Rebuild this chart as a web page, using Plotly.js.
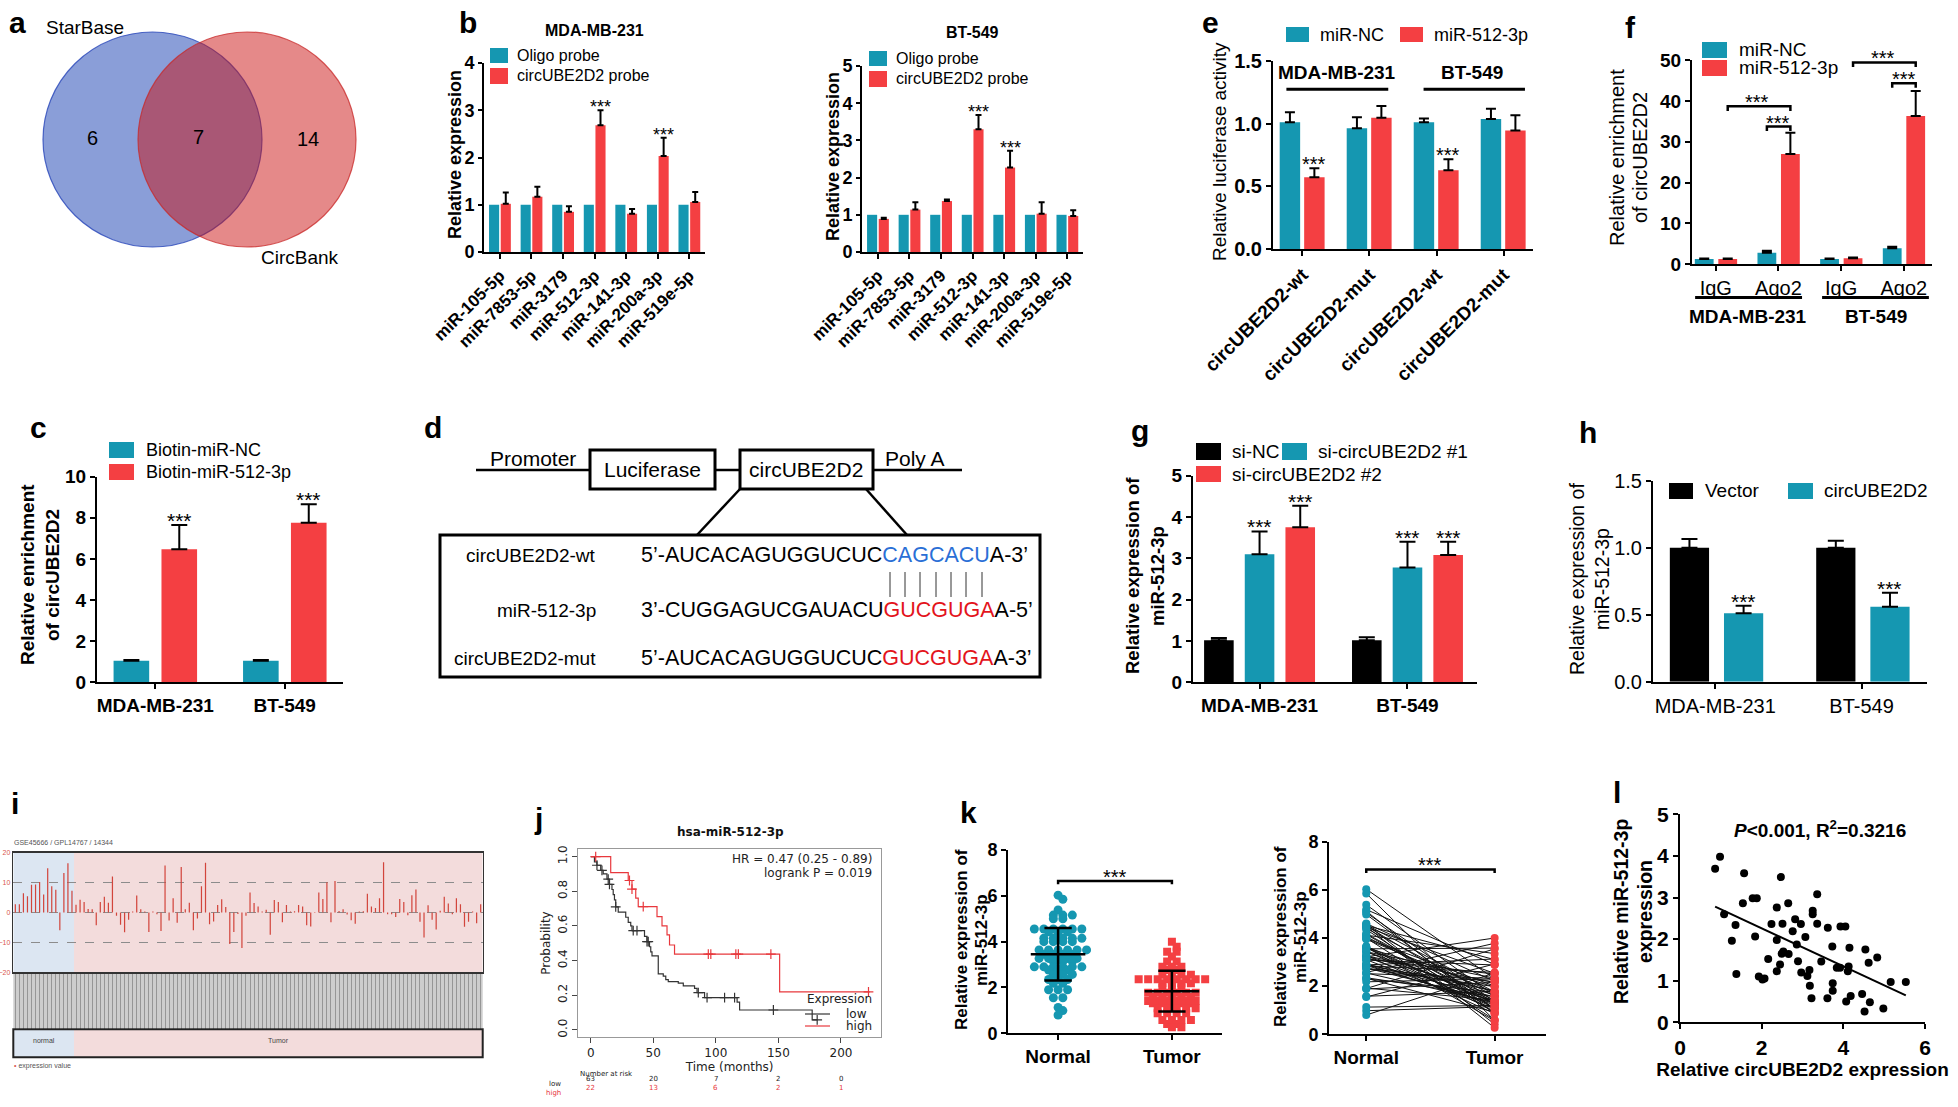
<!DOCTYPE html>
<html>
<head>
<meta charset="utf-8">
<script src="https://cdn.plot.ly/plotly-3.0.1.min.js"></script>
<style>
  html, body { margin: 0; padding: 0; background: #fff; }
  #fig { width: 1958px; height: 1107px; }
</style>
</head>
<body>
<div id="fig"></div>
<script>
// ---------- values ----------
// b: RNA pull-down, 7 candidate miRNAs
var bCats = ['miR-105-5p', 'miR-7853-5p', 'miR-3179', 'miR-512-3p', 'miR-141-3p', 'miR-200a-3p', 'miR-519e-5p'];
var bMdaOligo = [1, 1, 1, 1, 1, 1, 1];
var bMdaProbe = [1.02, 1.17, 0.85, 2.68, 0.81, 2.03, 1.06];
var bMdaProbeErr = [0.24, 0.21, 0.12, 0.32, 0.10, 0.39, 0.21];
var bBtOligo = [1, 1, 1, 1, 1, 1, 1];
var bBtProbe = [0.89, 1.14, 1.37, 3.30, 2.27, 1.03, 0.97];
var bBtProbeErr = [0.03, 0.20, 0.04, 0.38, 0.45, 0.31, 0.15];

// e: luciferase
var eCats = ['circUBE2D2-wt', 'circUBE2D2-mut', 'circUBE2D2-wt', 'circUBE2D2-mut'];
var eNC = [1.01, 0.963, 1.01, 1.037];
var eNCErr = [0.08, 0.087, 0.03, 0.081];
var eMir = [0.573, 1.047, 0.628, 0.944];
var eMirErr = [0.071, 0.093, 0.088, 0.122];

// f: RIP
var fCats = ['IgG', 'Ago2', 'IgG', 'Ago2'];
var fNC = [1.3, 2.8, 1.3, 3.9];
var fNCErr = [0.15, 0.5, 0.15, 0.4];
var fMir = [1.3, 27.0, 1.5, 36.3];
var fMirErr = [0.15, 5.2, 0.15, 6.1];

// c: biotin pull-down
var cellCats = ['MDA-MB-231', 'BT-549'];
var cNC = [1.05, 1.05];
var cNCErr = [0.03, 0.03];
var cMir = [6.47, 7.76];
var cMirErr = [1.18, 0.90];

// g: knockdown
var gNC = [1.02, 1.02];
var gNCErr = [0.05, 0.07];
var gSi1 = [3.10, 2.78];
var gSi1Err = [0.55, 0.62];
var gSi2 = [3.75, 3.08];
var gSi2Err = [0.52, 0.32];

// h: overexpression
var hVector = [1.0, 1.0];
var hVectorErr = [0.065, 0.052];
var hCirc = [0.51, 0.56];
var hCircErr = [0.057, 0.104];

// i: GEO expression profile
var iNormal = [2.8, 2.8, 6.4, 5.4, 9.3, 9.4, 10.2, 6.0, 14.8, 8.8, 7.6, -5.9, 13.2, 16.5, 7.3];
var iTumor = [2.6, 4.3, 3.5, 1.2, 1.1, -4.3, 3.5, 5.3, 3.3, 12.0, -1.1, -4.1, -6.6, -2.4, 0.3, 5.7, 1.1, 0.3, -6.5, 0.3,
  -0.6, -6.2, 15.7, -2.7, 4.8, -3.4, 15.2, 1.1, 3.3, -5.9, -2.0, 8.8, 16.6, -3.9, -3.0, 2.5, 4.4, 1.8, -10.5, -6.5,
  -0.5, -11.9, -1.1, 6.7, 3.2, 2.0, 0.3, 0.9, -7.4, 4.2, 3.5, -3.3, 2.5, 0.3, 0.4, 2.5, 2.0, -4.3, -4.7, -0.2,
  6.7, 4.5, 10.1, -3.3, 10.5, 0.5, 1.1, -0.7, -2.6, -3.8, 0.3, 0.4, 6.3, 2.0, 1.5, 4.8, 16.8, -0.6, -0.6, -1.5,
  4.5, 3.5, -0.9, 5.8, 7.7, -3.1, -8.4, 2.4, -2.4, -5.7, 0.6, 5.3, 3.0, -0.6, 4.8, 2.8, -4.8, -3.1, 0.3, -3.6, 2.8];

// j: Kaplan-Meier
var kmHighT = [0, 16, 30, 33, 36, 38, 53, 57, 61, 63, 67, 151, 223];
var kmHighS = [1.0, 0.908, 0.862, 0.812, 0.76, 0.711, 0.654, 0.6, 0.548, 0.49, 0.437, 0.219, 0.219];
var kmHighCens = [4, 31, 33, 42, 94, 96, 116, 118, 144, 222];
var kmLowT = [0, 3, 5, 8, 10, 13, 15, 17, 18, 19, 20, 22, 28, 30, 32, 33, 43, 45, 47, 48, 49, 54, 58, 60, 62, 70, 74, 83, 85, 91, 117, 119, 177, 181];
var kmLowS = [1.0, 0.97, 0.95, 0.92, 0.9, 0.87, 0.84, 0.81, 0.78, 0.75, 0.71, 0.68, 0.65, 0.62, 0.6, 0.573, 0.54, 0.51, 0.48, 0.45, 0.427, 0.323, 0.31, 0.29, 0.279, 0.27, 0.254, 0.24, 0.215, 0.186, 0.16, 0.115, 0.058, 0.058];
var kmLowCens = [5, 9, 14, 15, 20, 34, 37, 45, 46, 86, 93, 107, 115, 146, 181];
var riskTimes = [0, 50, 100, 150, 200];
var riskLow = [63, 20, 7, 2, 0];
var riskHigh = [22, 13, 6, 2, 1];

// k: tissue expression (scatter dot plot rows)
var kNormal = [6.03, 5.85, 5.38, 5.16, 5.16, 5.16, 5.0, 5.0,
  4.55, 4.55, 4.55, 4.55, 4.55, 4.55, 4.43, 4.43, 4.43, 4.15, 4.15, 4.15, 4.15, 4.15, 4.0, 4.0, 4.0, 4.0,
  3.64, 3.64, 3.64, 3.64, 3.64, 3.64, 3.45, 3.45, 3.45, 3.45, 3.27, 3.27, 3.27, 3.27, 3.27, 3.13, 3.13, 3.13,
  2.9, 2.9, 2.9, 2.9, 2.9, 2.9, 2.76, 2.76, 2.76, 2.57, 2.57, 2.57, 2.35, 2.35, 2.35, 2.18, 2.18,
  1.9, 1.9, 1.9, 1.55, 1.55, 1.13, 0.99, 0.8];
var kTumor = [4.0, 3.78, 3.56, 3.56, 3.35, 3.13, 3.13, 2.9, 2.9, 2.9, 2.76, 2.76, 2.55, 2.55, 2.55, 2.55,
  2.36, 2.36, 2.36, 2.36, 2.36, 2.36, 2.36, 2.36, 2.18, 2.18, 2.18, 2.18, 2.0, 2.0, 2.0,
  1.77, 1.77, 1.77, 1.77, 1.77, 1.77, 1.6, 1.6, 1.6, 1.6, 1.6, 1.41, 1.41, 1.41, 1.41, 1.41, 1.41,
  1.31, 1.31, 1.31, 1.31, 1.31, 1.09, 1.09, 1.09, 1.09, 1.09, 0.87, 0.87, 0.87, 0.87,
  0.58, 0.58, 0.58, 0.58, 0.41, 0.41, 0.26, 0.26];
// paired samples (right plot): normal and matching tumor value
var kPairNormal = [6.03, 5.85, 5.38, 5.18, 5.12, 5.05, 4.98, 4.6, 4.58, 4.55, 4.52, 4.5, 4.48, 4.45, 4.4, 4.35,
  4.18, 4.15, 4.12, 4.05, 4.0, 3.98, 3.95, 3.66, 3.64, 3.62, 3.6, 3.58, 3.55, 3.45, 3.43, 3.42,
  3.28, 3.26, 3.25, 3.22, 3.2, 3.13, 3.1, 3.08, 2.92, 2.9, 2.9, 2.88, 2.86, 2.85, 2.76, 2.74,
  2.72, 2.57, 2.55, 2.52, 2.35, 2.33, 2.3, 2.18, 1.92, 1.9, 1.88, 1.58, 1.55, 1.13, 0.98, 0.8];
var kPairTumor = [2.3, 0.58, 1.6, 2.9, 0.85, 1.36, 1.05, 2.2, 0.42, 1.76, 3.1, 1.3, 0.27, 2.53, 1.58, 0.88,
  1.25, 1.08, 3.35, 1.41, 0.6, 2.0, 1.74, 1.28, 0.95, 0.56, 1.96, 1.38, 3.58, 1.1, 2.33, 1.62,
  0.86, 2.15, 1.77, 4.0, 1.35, 2.5, 1.06, 2.88, 1.55, 1.22, 1.8, 3.13, 1.27, 2.57, 1.4, 2.18,
  1.98, 3.78, 1.32, 2.32, 1.56, 0.92, 1.75, 2.3, 1.42, 3.55, 2.16, 1.78, 2.92, 1.2, 1.15, 2.55];

// l: correlation
var lCirc = [0.86, 0.98, 1.57, 1.08, 1.36, 1.27, 1.38, 1.54, 1.78, 1.88, 1.84, 1.93, 2.02, 2.07, 2.16, 2.24,
  2.37, 2.37, 2.37, 2.45, 2.47, 2.49, 2.51, 2.53, 2.65, 2.66, 2.76, 2.82, 2.86, 2.89, 2.96, 2.97,
  3.07, 3.12, 3.17, 3.18, 3.22, 3.25, 3.25, 3.36, 3.36, 3.46, 3.61, 3.62, 3.73, 3.74, 3.74, 3.84,
  3.92, 3.93, 4.05, 4.07, 4.11, 4.13, 4.15, 4.18, 4.46, 4.52, 4.54, 4.62, 4.65, 4.83, 4.98, 5.16, 5.53];
var lMir = [3.69, 3.98, 3.58, 2.6, 2.34, 1.96, 1.16, 2.86, 2.98, 2.98, 2.06, 1.1, 1.03, 1.05, 1.52, 2.36,
  2.76, 1.98, 1.23, 1.39, 3.49, 1.65, 2.37, 1.7, 2.86, 1.64, 2.19, 2.48, 1.87, 1.47, 2.36, 1.2,
  2.05, 1.11, 1.26, 0.88, 0.58, 2.68, 2.6, 3.08, 2.37, 1.46, 0.58, 2.27, 1.82, 0.94, 0.76, 1.31,
  1.31, 2.3, 2.3, 0.5, 1.23, 1.34, 1.79, 0.63, 0.68, 0.26, 1.75, 1.43, 0.48, 1.56, 0.33, 0.97, 0.97];

// ---------- drawing ----------
var W = 1958, H = 1107;
var F = 'Liberation Sans, Arial, Helvetica, sans-serif';
var FR = 'DejaVu Sans, sans-serif';
var TEAL = '#1597b1', RED = '#f43f42', KRED = '#e8383d';

var traces = [], shapes = [], annotations = [];
var layout = {
  width: W, height: H, margin: {l: 0, r: 0, t: 0, b: 0},
  paper_bgcolor: '#fff', plot_bgcolor: 'rgba(0,0,0,0)',
  showlegend: false, barmode: 'overlay', hovermode: false,
  font: {family: F, color: '#000'}
};

function fnt(size, bold, color, fam) {
  return {family: fam || F, size: size, color: color || '#000', weight: bold ? 'bold' : 'normal'};
}
function gp(domain, o) {
  var a = {domain: domain, showline: true, linecolor: '#000', linewidth: 2, ticks: 'outside', ticklen: 5,
    tickwidth: 2, tickcolor: '#000', showgrid: false, zeroline: false, fixedrange: true, automargin: false,
    tickfont: fnt(18, true)};
  for (var k in o) a[k] = o[k];
  return a;
}
function panel(n, l, r, t, b, xo, yo) {
  var s = n === 1 ? '' : String(n);
  xo.anchor = 'y' + s;
  yo.anchor = 'x' + s;
  layout['xaxis' + s] = gp([l / W, r / W], xo);
  layout['yaxis' + s] = gp([1 - b / H, 1 - t / H], yo);
  return s;
}
function T(x, y, s, f, xa, ya, angle) {
  annotations.push({xref: 'paper', yref: 'paper', x: x / W, y: 1 - y / H, text: s, showarrow: false,
    font: f, xanchor: xa || 'center', yanchor: ya || 'middle', textangle: angle || 0, borderpad: 0});
}
// vertical axis title, one annotation per line
function ytitle(xs, yc, lines, f) {
  lines.forEach(function (t, i) { T(xs[i], yc, t, f, 'center', 'middle', -90); });
}
function R(x0, y0, x1, y1, fill, lw, lc) {
  shapes.push({type: 'rect', xref: 'paper', yref: 'paper', x0: x0 / W, x1: x1 / W, y0: 1 - y0 / H, y1: 1 - y1 / H,
    fillcolor: fill || 'rgba(0,0,0,0)', line: {width: lw || 0, color: lc || '#000'}});
}
function L(x0, y0, x1, y1, lw, lc) {
  shapes.push({type: 'line', xref: 'paper', yref: 'paper', x0: x0 / W, x1: x1 / W, y0: 1 - y0 / H, y1: 1 - y1 / H,
    line: {width: lw, color: lc || '#000'}});
}
function key(x, y0, y1, w, color, label, f, gap) {
  R(x, y0, x + w, y1, color);
  T(x + w + gap, (y0 + y1) / 2, label, f, 'left', 'middle');
}
function idx(a) { return a.map(function (v, i) { return i; }); }
function barSet(s, cats, list, cap, starFont) {
  list.forEach(function (b) {
    var t = {type: 'bar', x: idx(cats), y: b.y, width: b.w, offset: b.off, xaxis: 'x' + s, yaxis: 'y' + s,
      marker: {color: b.color, line: {width: 0}}, hoverinfo: 'skip'};
    if (b.err) {
      t.error_y = {type: 'data', symmetric: false, array: b.err, arrayminus: b.err.map(function () { return 0; }),
        color: '#000', thickness: 2, width: cap};
    }
    traces.push(t);
    (b.stars || []).forEach(function (i) {
      annotations.push({xref: 'x' + s, yref: 'y' + s, x: i + b.off + b.w / 2, y: b.y[i] + (b.err ? b.err[i] : 0),
        text: '***', showarrow: false, xanchor: 'center', yanchor: 'bottom', yshift: -9, font: starFont});
    });
  });
}
function dataLine(s, x0, y0, x1, y1, w) {
  shapes.push({type: 'line', xref: 'x' + s, yref: 'y' + s, x0: x0, y0: y0, x1: x1, y1: y1, line: {width: w, color: '#000'}});
}
function bracket(s, xa, xb, ytop, ybot, w) {
  shapes.push({type: 'path', xref: 'x' + s, yref: 'y' + s,
    path: 'M' + xa + ',' + ybot + ' L' + xa + ',' + ytop + ' L' + xb + ',' + ytop + ' L' + xb + ',' + ybot,
    line: {width: w, color: '#000'}});
}
function dataText(s, x, y, txt, f, ya, ys) {
  annotations.push({xref: 'x' + s, yref: 'y' + s, x: x, y: y, text: txt, showarrow: false, yanchor: ya || 'bottom',
    yshift: ys || 0, font: f});
}

// panel letters
var letter = fnt(30, true);
[['a', 17, 22], ['b', 468, 22], ['e', 1210, 22], ['f', 1630, 27], ['c', 38, 427], ['d', 433, 427],
 ['g', 1140, 430], ['h', 1588, 433], ['i', 15, 803], ['j', 538, 818], ['k', 968, 812], ['l', 1617, 792]]
  .forEach(function (p) { T(p[1], p[2], p[0], letter); });

// ---- a: Venn ----
shapes.push({type: 'circle', xref: 'paper', yref: 'paper', x0: 43 / W, x1: 262 / W, y0: 1 - 247 / H, y1: 1 - 32 / H,
  fillcolor: 'rgba(34,72,181,0.53)', line: {color: 'rgba(40,70,185,0.8)', width: 1.2}});
shapes.push({type: 'circle', xref: 'paper', yref: 'paper', x0: 138 / W, x1: 356 / W, y0: 1 - 247 / H, y1: 1 - 32 / H,
  fillcolor: 'rgba(202,15,15,0.49)', line: {color: 'rgba(200,40,40,0.75)', width: 1.2}});
T(85, 27, 'StarBase', fnt(19));
T(92, 138, '6', fnt(20));
T(198, 137, '7', fnt(20));
T(308, 139, '14', fnt(20));
T(300, 257, 'CircBank', fnt(19));

// ---- b: two pull-down panels ----
var s;
s = panel(1, 484, 705, 63, 252,
  {range: [-0.5, 6.5], tickvals: idx(bCats), ticktext: bCats, tickangle: -45, tickfont: fnt(17, true)},
  {range: [0, 4], dtick: 1, ticklen: 4, tickfont: fnt(18, true)});
ytitle([455], 155, ['Relative expression'], fnt(18, true));
barSet(s, bCats, [
  {y: bMdaOligo, color: TEAL, off: -0.34, w: 0.32},
  {y: bMdaProbe, err: bMdaProbeErr, color: RED, off: 0.03, w: 0.32, stars: [3, 5]}
], 3, fnt(18));
T(594, 30, 'MDA-MB-231', fnt(16, true));
key(490, 48, 63, 18, TEAL, 'Oligo probe', fnt(16), 8);
key(490, 68, 84, 18, RED, 'circUBE2D2 probe', fnt(16), 8);

s = panel(2, 862, 1083, 66, 252,
  {range: [-0.5, 6.5], tickvals: idx(bCats), ticktext: bCats, tickangle: -45, tickfont: fnt(17, true)},
  {range: [0, 5], dtick: 1, ticklen: 4, tickfont: fnt(18, true)});
ytitle([833], 157, ['Relative expression'], fnt(18, true));
barSet(s, bCats, [
  {y: bBtOligo, color: TEAL, off: -0.34, w: 0.32},
  {y: bBtProbe, err: bBtProbeErr, color: RED, off: 0.03, w: 0.32, stars: [3, 4]}
], 3, fnt(18));
T(972, 32, 'BT-549', fnt(16, true));
key(869, 51, 66, 18, TEAL, 'Oligo probe', fnt(16), 8);
key(869, 71, 87, 18, RED, 'circUBE2D2 probe', fnt(16), 8);

// ---- e: luciferase ----
s = panel(3, 1273, 1533, 60.7, 249.3,
  {range: [-0.44, 3.44], tickvals: idx(eCats), ticktext: eCats, tickangle: -45, tickfont: fnt(19, true)},
  {range: [0, 1.5], dtick: 0.5, tickformat: '.1f', tickfont: fnt(20, true)});
ytitle([1220], 152, ['Relative luciferase activity'], fnt(19));
barSet(s, eCats, [
  {y: eNC, err: eNCErr, color: TEAL, off: -0.34, w: 0.305},
  {y: eMir, err: eMirErr, color: RED, off: 0.025, w: 0.305, stars: [0, 2]}
], 5, fnt(20));
key(1286, 27, 42, 23, TEAL, 'miR-NC', fnt(18), 10);
key(1400, 27, 42, 23, RED, 'miR-512-3p', fnt(18), 10);
dataText(s, 0.52, 1.31, 'MDA-MB-231', fnt(19, true));
dataText(s, 2.53, 1.31, 'BT-549', fnt(19, true));
dataLine(s, -0.24, 1.273, 1.28, 1.273, 3);
dataLine(s, 1.807, 1.273, 3.32, 1.273, 3);

// ---- f: RIP ----
s = panel(4, 1692, 1932, 60, 264.3,
  {range: [-0.38, 3.45], tickvals: idx(fCats), ticktext: fCats, tickfont: fnt(20)},
  {range: [0, 50], dtick: 10, tickfont: fnt(19, true)});
ytitle([1617, 1640], 158, ['Relative enrichment', 'of circUBE2D2'], fnt(20));
barSet(s, fCats, [
  {y: fNC, err: fNCErr, color: TEAL, off: -0.335, w: 0.3},
  {y: fMir, err: fMirErr, color: RED, off: 0.04, w: 0.3}
], 5, fnt(20));
bracket(s, 0.19, 1.19, 38.7, 37.5, 2.5);
bracket(s, 0.815, 1.19, 33.7, 32.6, 2.5);
bracket(s, 2.19, 3.19, 49.4, 48.3, 2.5);
bracket(s, 2.815, 3.19, 44.3, 43.2, 2.5);
dataText(s, 0.66, 38.7, '***', fnt(20), 'bottom', -9);
dataText(s, 1.0, 33.7, '***', fnt(20), 'bottom', -9);
dataText(s, 2.66, 49.4, '***', fnt(20), 'bottom', -9);
dataText(s, 3.0, 44.3, '***', fnt(20), 'bottom', -9);
key(1702, 42, 58, 25, TEAL, 'miR-NC', fnt(19), 11);
key(1702, 60, 76, 25, RED, 'miR-512-3p', fnt(19), 11);
[[-0.33, 1.376, 0.52, 'MDA-MB-231'], [1.696, 3.40, 2.55, 'BT-549']].forEach(function (g) {
  shapes.push({type: 'line', xref: 'x4', yref: 'paper', x0: g[0], x1: g[1], y0: 1 - 297.5 / H, y1: 1 - 297.5 / H, line: {width: 3, color: '#000'}});
  annotations.push({xref: 'x4', yref: 'paper', x: g[2], y: 1 - 317 / H, text: g[3], showarrow: false, yanchor: 'middle', font: fnt(19, true)});
});

// ---- c: biotin pull-down ----
s = panel(5, 97, 343, 476.7, 682.3,
  {range: [-0.45, 1.45], tickvals: idx(cellCats), ticktext: cellCats, tickfont: fnt(19, true)},
  {range: [0, 10], dtick: 2, tickfont: fnt(19, true)});
ytitle([27, 52], 575, ['Relative enrichment', 'of circUBE2D2'], fnt(19, true));
barSet(s, cellCats, [
  {y: cNC, err: cNCErr, color: TEAL, off: -0.322, w: 0.275},
  {y: cMir, err: cMirErr, color: RED, off: 0.048, w: 0.275, stars: [0, 1]}
], 8, fnt(21));
key(109, 442, 458, 25, TEAL, 'Biotin-miR-NC', fnt(18), 11);
key(109, 464, 480, 25, RED, 'Biotin-miR-512-3p', fnt(18), 11);

// ---- d: reporter construct ----
L(476, 470, 962, 470, 2.5);
R(590, 450, 715, 489, '#fff', 3);
R(740, 450, 873, 489, '#fff', 3);
L(740, 489, 697, 535, 2.5);
L(866, 489, 907, 535, 2.5);
R(440, 535, 1040, 677, '#fff', 3);
T(533, 458, 'Promoter', fnt(21));
T(652, 469, 'Luciferase', fnt(21));
T(806, 470, 'circUBE2D2', fnt(21));
T(915, 458, 'Poly A', fnt(21));
var dRows = [
  ['circUBE2D2-wt', '5’-AUCACAGUGGUCUC<span style="color:#2a6fd6">CAGCACU</span>A-3’', 555],
  ['miR-512-3p', '3’-CUGGAGUCGAUACU<span style="color:#e3141c">GUCGUGA</span>A-5’', 610],
  ['circUBE2D2-mut', '5’-AUCACAGUGGUCUC<span style="color:#e3141c">GUCGUGA</span>A-3’', 658]
];
dRows.forEach(function (r) {
  T(597, r[2], r[0], fnt(19), 'right');
  T(640, r[2], r[1], fnt(21.5), 'left');
});
[890, 905, 920, 936, 951, 966, 982].forEach(function (x) { L(x, 572, x, 597, 1, '#333'); });

// ---- g: knockdown ----
s = panel(6, 1193, 1477, 475.7, 682.3,
  {range: [-0.45, 1.47], tickvals: idx(cellCats), ticktext: cellCats, tickfont: fnt(19, true)},
  {range: [0, 5], dtick: 1, tickfont: fnt(19, true)});
ytitle([1132, 1157], 576, ['Relative expression of', 'miR-512-3p'], fnt(18.5, true));
barSet(s, cellCats, [
  {y: gNC, err: gNCErr, color: '#000', off: -0.375, w: 0.2},
  {y: gSi1, err: gSi1Err, color: TEAL, off: -0.1, w: 0.2, stars: [0, 1]},
  {y: gSi2, err: gSi2Err, color: RED, off: 0.175, w: 0.2, stars: [0, 1]}
], 8, fnt(21));
key(1196, 443, 460, 25, '#000', 'si-NC', fnt(19), 10);
key(1282, 443, 460, 25, TEAL, 'si-circUBE2D2 #1', fnt(19), 10);
key(1196, 466, 482, 25, RED, 'si-circUBE2D2 #2', fnt(19), 10);

// ---- h: overexpression ----
s = panel(7, 1653, 1927, 480.7, 681.7,
  {range: [-0.425, 1.447], tickvals: idx(cellCats), ticktext: cellCats, tickfont: fnt(20)},
  {range: [0, 1.5], dtick: 0.5, tickformat: '.1f', tickfont: fnt(20)});
ytitle([1577, 1602], 579, ['Relative expression of', 'miR-512-3p'], fnt(19.5));
barSet(s, cellCats, [
  {y: hVector, err: hVectorErr, color: '#000', off: -0.31, w: 0.268},
  {y: hCirc, err: hCircErr, color: TEAL, off: 0.06, w: 0.268, stars: [0, 1]}
], 8, fnt(21));
key(1669, 483, 499, 24, '#000', 'Vector', fnt(19), 11);
key(1788, 483, 499, 25, TEAL, 'circUBE2D2', fnt(19), 10);

// ---- i: GEO profile ----
var iVals = iNormal.concat(iTumor);
var iN = iVals.length;
s = panel(8, 13.3, 482.7, 852.7, 972.3,
  {range: [-0.5, iN - 0.5], tickvals: idx(iVals), showticklabels: false, ticks: 'outside', ticklen: 55,
   tickwidth: 1, tickcolor: 'rgba(95,95,95,0.5)', linecolor: '#333', linewidth: 1.5, mirror: true},
  {range: [-20, 20], tickvals: [-20, -10, 0, 10, 20], ticks: '', tickfont: fnt(7, false, '#d9534f'),
   showgrid: true, gridcolor: '#8c8c8c', gridwidth: 1, griddash: 'dash', linecolor: '#333', linewidth: 1.5, mirror: true});
shapes.push({type: 'rect', xref: 'x8', yref: 'y8 domain', x0: -0.5, x1: iNormal.length - 0.5, y0: 0, y1: 1,
  fillcolor: '#dce6f2', line: {width: 0}, layer: 'below'});
shapes.push({type: 'rect', xref: 'x8', yref: 'y8 domain', x0: iNormal.length - 0.5, x1: iN - 0.5, y0: 0, y1: 1,
  fillcolor: '#f3dcdc', line: {width: 0}, layer: 'below'});
shapes.push({type: 'rect', xref: 'paper', yref: 'paper', x0: 13.3 / W, x1: 482.7 / W, y0: 1 - 1028 / H, y1: 1 - 972.3 / H,
  fillcolor: '#cdcdcd', line: {width: 0}, layer: 'below'});
traces.push({type: 'bar', x: idx(iVals), y: iVals, width: 0.3, marker: {color: '#d2453c', line: {width: 0}},
  xaxis: 'x8', yaxis: 'y8', hoverinfo: 'skip'});
shapes.push({type: 'rect', xref: 'x8', yref: 'paper', x0: -0.5, x1: iNormal.length - 0.5, y0: 1 - 1057.3 / H, y1: 1 - 1029.3 / H,
  fillcolor: '#dce6f2', line: {width: 0}});
shapes.push({type: 'rect', xref: 'x8', yref: 'paper', x0: iNormal.length - 0.5, x1: iN - 0.5, y0: 1 - 1057.3 / H, y1: 1 - 1029.3 / H,
  fillcolor: '#f3dcdc', line: {width: 0}});
R(13.3, 1029.3, 482.7, 1057.3, null, 2, '#222');
annotations.push({xref: 'x8', yref: 'paper', x: (iNormal.length - 1) / 2, y: 1 - 1046 / H, text: 'normal', showarrow: false, font: fnt(7, false, '#444')});
annotations.push({xref: 'x8', yref: 'paper', x: (iNormal.length + iN - 1) / 2, y: 1 - 1046 / H, text: 'Tumor', showarrow: false, font: fnt(7, false, '#444')});
T(13, 842, 'GSE45666 / GPL14767 / 14344', fnt(7, false, '#555'), 'left');
T(13, 1066, '<span style="color:#d9534f">•</span> expression value', fnt(7, false, '#555'), 'left');

// ---- j: Kaplan-Meier ----
s = panel(9, 578.3, 881, 849.3, 1036.7,
  {range: [-9.9, 232], tickvals: riskTimes, ticks: 'outside', ticklen: 5, tickwidth: 1, tickcolor: '#444',
   linecolor: '#999', linewidth: 1.3, mirror: true, tickfont: fnt(12, false, '#222', FR),
   title: {text: 'Time (months)', font: fnt(12, false, '#222', FR), standoff: 3}},
  {range: [-0.039, 1.042], tickvals: [0, 0.2, 0.4, 0.6, 0.8, 1], tickformat: '.1f', tickangle: -90,
   ticks: 'outside', ticklen: 5, tickwidth: 1, tickcolor: '#444', linecolor: '#999', linewidth: 1.3, mirror: true,
   tickfont: fnt(12, false, '#222', FR), title: {text: 'Probability', font: fnt(12, false, '#222', FR), standoff: 3}});
function survAt(Ts, Ss, t) {
  var v = Ss[0];
  for (var i = 0; i < Ts.length; i++) if (Ts[i] <= t) v = Ss[i];
  return v;
}
[[kmLowT, kmLowS, kmLowCens, '#333'], [kmHighT, kmHighS, kmHighCens, KRED]].forEach(function (c) {
  traces.push({type: 'scatter', mode: 'lines', x: c[0], y: c[1], line: {shape: 'hv', color: c[3], width: 1.2},
    xaxis: 'x9', yaxis: 'y9', hoverinfo: 'skip'});
  traces.push({type: 'scatter', mode: 'markers', x: c[2], y: c[2].map(function (t) { return survAt(c[0], c[1], t); }),
    marker: {symbol: 'cross-thin', size: 7, line: {width: 1.2, color: c[3]}}, xaxis: 'x9', yaxis: 'y9', hoverinfo: 'skip'});
});
T(730, 832, 'hsa-miR-512-3p', fnt(12, true, '#111', FR));
T(873, 859, 'HR = 0.47 (0.25 - 0.89)', fnt(12, false, '#222', FR), 'right');
T(873, 873, 'logrank P = 0.019', fnt(12, false, '#222', FR), 'right');
T(873, 999, 'Expression', fnt(12, false, '#222', FR), 'right');
L(805, 1014, 830, 1014, 1.2, '#333');
L(805, 1026, 830, 1026, 1.2, KRED);
T(845, 1014, 'low', fnt(12, false, '#222', FR), 'left');
T(845, 1026, 'high', fnt(12, false, '#222', FR), 'left');
T(579, 1073.5, 'Number at risk', fnt(7, false, '#222', FR), 'left');
T(562, 1084, 'low', fnt(7, false, '#222', FR), 'right');
T(562, 1093, 'high', fnt(7, false, KRED, FR), 'right');
riskTimes.forEach(function (t, i) {
  annotations.push({xref: 'x9', yref: 'paper', x: t, y: 1 - 1084 / H, text: String(riskLow[i]), showarrow: false, borderpad: 0, font: fnt(7, false, '#222', FR)});
  annotations.push({xref: 'x9', yref: 'paper', x: t, y: 1 - 1093 / H, text: String(riskHigh[i]), showarrow: false, borderpad: 0, font: fnt(7, false, KRED, FR)});
});

// ---- k: tissue expression ----
var kCats = ['Normal', 'Tumor'];
s = panel(10, 1008, 1222, 850, 1033.3,
  {range: [-0.44, 1.44], tickvals: [0, 1], ticktext: kCats, tickfont: fnt(19, true)},
  {range: [0, 8], dtick: 2, tickfont: fnt(18, true)});
ytitle([961, 981], 940, ['Relative expression of', 'miR-512-3p'], fnt(17, true));
// GraphPad-style rows: equal values side by side, close rows staggered
var kPxX = 214 / 1.88, kPxY = 183.3 / 8;
function rowOffsets(vals, pxX, sp) {
  var groups = {}, out = new Array(vals.length), keys = [];
  vals.forEach(function (v, i) {
    if (!groups[v]) { groups[v] = []; keys.push(v); }
    groups[v].push(i);
  });
  keys.sort(function (a, b) { return b - a; });
  var prev = null, prevShift = 0;
  keys.forEach(function (v) {
    var g = groups[v], n = g.length, shift = 0;
    if (prev !== null && (prev.v - v) * kPxY < sp && (prev.n % 2) === (n % 2) && prevShift === 0) shift = sp / 2;
    g.forEach(function (i, j) { out[i] = ((j - (n - 1) / 2) * sp + shift) / pxX; });
    prev = {v: v, n: n};
    prevShift = shift;
  });
  return out;
}
function meanSd(v) {
  var m = v.reduce(function (a, b) { return a + b; }, 0) / v.length;
  var sd = Math.sqrt(v.reduce(function (a, b) { return a + (b - m) * (b - m); }, 0) / (v.length - 1));
  return [m, sd];
}
[[kNormal, 0, 'circle', TEAL], [kTumor, 1, 'square', RED]].forEach(function (g) {
  var off = rowOffsets(g[0], kPxX, 9.5);
  traces.push({type: 'scatter', mode: 'markers', x: off.map(function (o) { return g[1] + o; }), y: g[0],
    marker: {symbol: g[2], size: g[2] === 'square' ? 8 : 9, color: g[3]}, xaxis: 'x10', yaxis: 'y10', hoverinfo: 'skip'});
  var ms = meanSd(g[0]);
  traces.push({type: 'scatter', mode: 'lines', xaxis: 'x10', yaxis: 'y10', hoverinfo: 'skip', line: {color: '#000', width: 2.5},
    x: [g[1] - 0.24, g[1] + 0.24, null, g[1], g[1], null, g[1] - 0.12, g[1] + 0.12, null, g[1] - 0.12, g[1] + 0.12],
    y: [ms[0], ms[0], null, ms[0] - ms[1], ms[0] + ms[1], null, ms[0] + ms[1], ms[0] + ms[1], null, ms[0] - ms[1], ms[0] - ms[1]]});
});
bracket(s, 0, 1, 6.65, 6.5, 2.5);
dataText(s, 0.5, 6.65, '***', fnt(20), 'bottom', -9);

s = panel(11, 1329, 1546, 841.7, 1034.3,
  {range: [-0.29, 1.4], tickvals: [0, 1], ticktext: kCats, tickfont: fnt(19, true)},
  {range: [0, 8], dtick: 2, tickfont: fnt(18, true)});
ytitle([1280, 1300], 937, ['Relative expression of', 'miR-512-3p'], fnt(17, true));
var pxs = [], pys = [];
kPairNormal.forEach(function (v, i) { pxs.push(0, 1, null); pys.push(v, kPairTumor[i], null); });
traces.push({type: 'scatter', mode: 'lines', x: pxs, y: pys, line: {color: '#111', width: 1},
  xaxis: 'x11', yaxis: 'y11', hoverinfo: 'skip'});
traces.push({type: 'scatter', mode: 'markers', x: kPairNormal.map(function () { return 0; }), y: kPairNormal,
  marker: {size: 8, color: TEAL}, xaxis: 'x11', yaxis: 'y11', hoverinfo: 'skip'});
traces.push({type: 'scatter', mode: 'markers', x: kPairTumor.map(function () { return 1; }), y: kPairTumor,
  marker: {size: 8, color: RED}, xaxis: 'x11', yaxis: 'y11', hoverinfo: 'skip'});
bracket(s, 0, 1, 6.85, 6.7, 2.5);
dataText(s, 0.5, 6.85, '***', fnt(20), 'bottom', -9);

// ---- l: correlation ----
s = panel(12, 1680, 1925, 814.3, 1022.3,
  {range: [0, 6], dtick: 2, tickfont: fnt(21, true),
   title: {text: 'Relative circUBE2D2 expression', font: fnt(19, true), standoff: 5}},
  {range: [0, 5], dtick: 1, tickfont: fnt(21, true)});
ytitle([1621, 1645], 912, ['Relative miR-512-3p', 'expression'], fnt(19.5, true));
traces.push({type: 'scatter', mode: 'markers', x: lCirc, y: lMir, marker: {size: 8, color: '#000'},
  xaxis: 'x12', yaxis: 'y12', hoverinfo: 'skip'});
(function () {
  var n = lCirc.length, mx = 0, my = 0, sxy = 0, sxx = 0;
  for (var i = 0; i < n; i++) { mx += lCirc[i] / n; my += lMir[i] / n; }
  for (i = 0; i < n; i++) { sxy += (lCirc[i] - mx) * (lMir[i] - my); sxx += (lCirc[i] - mx) * (lCirc[i] - mx); }
  var b = sxy / sxx, a = my - b * mx;
  var x0 = Math.min.apply(null, lCirc), x1 = Math.max.apply(null, lCirc);
  traces.push({type: 'scatter', mode: 'lines', x: [x0, x1], y: [a + b * x0, a + b * x1], line: {color: '#000', width: 2},
    xaxis: 'x12', yaxis: 'y12', hoverinfo: 'skip'});
})();
T(1820, 829, '<i>P</i>&lt;0.001, R<sup>2</sup>=0.3216', fnt(19, true));

layout.shapes = shapes;
layout.annotations = annotations;
Plotly.newPlot('fig', traces, layout, {staticPlot: true, displayModeBar: false});
</script>
</body>
</html>
